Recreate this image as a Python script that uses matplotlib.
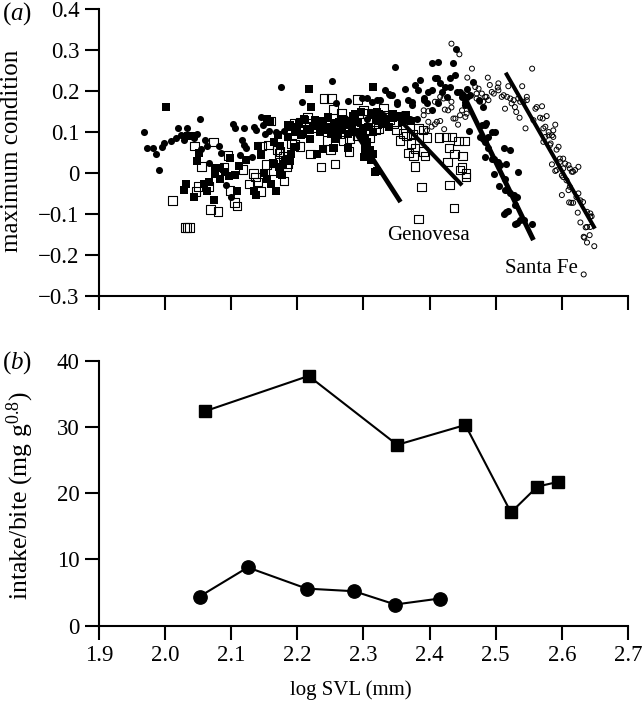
import matplotlib
matplotlib.use("Agg")
import matplotlib.pyplot as plt

plt.rcParams['font.family'] = ['Liberation Serif', 'DejaVu Serif']
plt.rcParams['mathtext.fontset'] = 'custom'
plt.rcParams['mathtext.rm'] = 'Liberation Serif'
plt.rcParams['mathtext.it'] = 'Liberation Serif:italic'

# panel a: filled squares
fsq_x = [2.002, 2.218, 2.220, 2.034, 2.040, 2.048, 2.051, 2.075, 2.083, 2.075, 2.083, 2.091, 2.096, 2.106,
         2.098, 2.112, 2.123, 2.032, 2.028, 2.044, 2.059, 2.063, 2.067, 2.074, 2.109, 2.134, 2.138, 2.149,
         2.154, 2.160, 2.168, 2.177, 2.172, 2.163, 2.145, 2.141, 2.159, 2.154, 2.174, 2.181, 2.189, 2.191,
         2.186, 2.210, 2.229, 2.239, 2.256, 2.277, 2.190, 2.197, 2.203, 2.208, 2.214, 2.219, 2.224, 2.229,
         2.234, 2.238, 2.243, 2.247, 2.251, 2.255, 2.259, 2.263, 2.268, 2.272, 2.276, 2.280, 2.284, 2.288,
         2.292, 2.296, 2.300, 2.303, 2.306, 2.310, 2.315, 2.319, 2.323, 2.328, 2.332, 2.338, 2.345, 2.352,
         2.358, 2.365, 2.372, 2.318, 2.301, 2.315, 2.315,
         2.164, 2.171, 2.179, 2.184, 2.191, 2.196, 2.186, 2.189, 2.199, 2.206, 2.212, 2.219, 2.227, 2.234,
         2.242, 2.247, 2.257, 2.262, 2.267, 2.275, 2.282, 2.287, 2.292, 2.300, 2.305, 2.307, 2.312, 2.320,
         2.330, 2.345, 2.358, 2.365, 2.302, 2.312, 2.320, 2.164, 2.174, 2.239, 2.254]
fsq_y = [0.160, 0.206, 0.162, 0.091, 0.091, 0.029, 0.049, 0.013, 0.013, -0.003, -0.014, 0.003, -0.008, -0.006,
         0.036, 0.016, 0.031, -0.026, -0.041, -0.059, -0.028, -0.045, -0.023, -0.067, -0.045, -0.045, -0.053, -0.001,
         -0.015, -0.026, -0.043, -0.006, 0.015, 0.025, 0.043, 0.067, 0.127, 0.133, 0.065, 0.029, 0.029, 0.046,
         0.118, 0.131, 0.046, 0.058, 0.062, 0.062, 0.112, 0.100, 0.119, 0.095, 0.108, 0.084, 0.115, 0.125,
         0.100, 0.128, 0.112, 0.135, 0.094, 0.115, 0.083, 0.125, 0.105, 0.128, 0.095, 0.118, 0.140, 0.100,
         0.125, 0.150, 0.110, 0.085, 0.070, 0.055, 0.100, 0.130, 0.145, 0.120, 0.132, 0.112, 0.135, 0.140,
         0.125, 0.130, 0.128, 0.003, 0.040, 0.210, 0.047,
         0.076, 0.092, 0.023, 0.035, 0.047, 0.064, 0.088, 0.117, 0.108, 0.092, 0.129, 0.104, 0.129, 0.117,
         0.104, 0.137, 0.121, 0.096, 0.133, 0.117, 0.104, 0.145, 0.125, 0.096, 0.076, 0.112, 0.145, 0.149,
         0.129, 0.145, 0.133, 0.141, 0.059, 0.031, 0.006, 0.023, -0.002, 0.059, 0.062]

# panel a: open squares
osq_x = [2.011, 2.030, 2.033, 2.037, 2.044, 2.055, 2.073, 2.095, 2.089, 2.118, 2.128, 2.134, 2.140, 2.137,
         2.144, 2.153, 2.164, 2.146, 2.160, 2.174, 2.184, 2.180, 2.185, 2.169, 2.156, 2.196, 2.204, 2.220,
         2.236, 2.257, 2.250, 2.278, 2.240, 2.252, 2.255, 2.291, 2.050, 2.047, 2.066, 2.098, 2.105, 2.109,
         2.069, 2.080, 2.218, 2.267, 2.269, 2.279, 2.264, 2.191, 2.300, 2.306, 2.297, 2.318, 2.323, 2.330,
         2.340, 2.355, 2.360, 2.383, 2.396, 2.372, 2.376, 2.368, 2.378, 2.391, 2.393, 2.378, 2.388, 2.430,
         2.437, 2.383, 2.414, 2.425, 2.434, 2.444, 2.453, 2.429, 2.438, 2.450, 2.427, 2.446, 2.449, 2.455,
         2.455,
         2.172, 2.178, 2.185, 2.196, 2.205, 2.215, 2.226, 2.245, 2.260, 2.280, 2.290, 2.310, 2.320, 2.330,
         2.345, 2.350, 2.365, 2.375, 2.390]
osq_y = [-0.067, -0.133, -0.133, -0.133, 0.066, 0.016, 0.076, 0.042, 0.013, 0.008, -0.027, -0.002, -0.022, -0.010,
         -0.045, 0.020, 0.005, 0.066, 0.127, 0.052, 0.015, -0.020, 0.023, 0.056, 0.068, 0.122, 0.064, 0.046,
         0.015, 0.022, 0.058, 0.052, 0.182, 0.182, 0.155, 0.179, -0.033, -0.045, -0.033, -0.043, -0.072, -0.081,
         -0.090, -0.094, 0.121, 0.145, 0.080, 0.084, 0.096, 0.072, 0.153, 0.145, 0.125, 0.105, 0.109, 0.157,
         0.129, 0.080, 0.096, 0.109, 0.087, 0.072, 0.043, 0.049, 0.060, 0.052, 0.041, 0.016, -0.034, -0.029,
         -0.086, -0.112, 0.087, 0.088, 0.088, 0.078, 0.078, 0.061, 0.046, 0.041, 0.027, 0.007, 0.013, -0.001,
         -0.010,
         0.048, 0.040, 0.033, 0.070, 0.125, 0.135, 0.110, 0.080, 0.105, 0.120, 0.090, 0.085, 0.120, 0.140,
         0.120, 0.105, 0.090, 0.095, 0.105]

# panel a: filled circles
fci_x = [1.968, 1.973, 1.982, 1.986, 1.991, 1.995, 1.999, 2.009, 2.016, 2.020, 2.033, 2.024, 2.028, 2.052,
         2.048, 2.043, 2.060, 2.063, 2.055, 2.082, 2.085, 2.067, 2.102, 2.106, 2.119, 2.135, 2.138, 2.148,
         2.145, 2.151, 2.157, 2.168, 2.180, 2.175, 2.207, 2.253, 2.258, 2.277, 2.116, 2.120, 2.123, 2.113,
         2.132, 2.092, 2.099, 2.348, 2.403, 2.412, 2.436, 2.440, 2.363, 2.382, 2.386, 2.378, 2.338, 2.343,
         2.320, 2.305, 2.350, 2.373, 2.391, 2.398, 2.408, 2.416, 2.431, 2.423, 2.439, 2.446, 2.456, 2.466,
         2.459, 2.484, 2.499, 2.476, 2.489, 2.513, 2.522, 2.484, 2.494, 2.504, 2.515, 2.497, 2.534, 2.505,
         2.514, 2.527, 2.529, 2.512, 2.518, 2.529, 2.542, 2.555, 2.481, 2.474, 2.454, 2.451, 2.426, 2.413,
         2.396, 2.371, 2.381, 2.358,
         2.297, 2.313, 2.325, 2.333, 2.340, 2.350, 2.368, 2.373, 2.360, 2.345, 2.330, 2.318, 2.305, 2.391,
         2.403, 2.411, 2.403, 2.418, 2.431, 2.441, 2.449, 2.454, 2.461, 2.456, 2.479, 2.486, 2.494, 2.481,
         2.484, 2.489, 2.497, 2.507, 2.514, 2.517, 2.522, 2.532, 2.537, 2.532, 2.515]
fci_y = [0.101, 0.060, 0.060, 0.046, 0.007, 0.063, 0.072, 0.077, 0.085, 0.110, 0.109, 0.093, 0.080, 0.132,
         0.094, 0.085, 0.080, 0.066, 0.058, 0.067, 0.048, 0.024, 0.119, 0.109, 0.111, 0.113, 0.105, 0.116,
         0.137, 0.094, 0.102, 0.101, 0.103, 0.209, 0.174, 0.225, 0.172, 0.175, 0.080, 0.068, 0.060, 0.044,
         0.040, -0.029, -0.059, 0.258, 0.268, 0.272, 0.268, 0.303, 0.204, 0.202, 0.227, 0.215, 0.194, 0.190,
         0.178, 0.182, 0.168, 0.174, 0.179, 0.198, 0.231, 0.219, 0.231, 0.210, 0.239, 0.198, 0.186, 0.223,
         0.103, 0.117, 0.100, 0.088, 0.088, 0.060, 0.057, 0.039, 0.035, 0.027, 0.021, -0.003, 0.002, -0.031,
         -0.042, -0.054, -0.079, -0.101, -0.093, -0.124, -0.116, -0.124, 0.162, 0.178, 0.174, 0.190, 0.186, 0.170,
         0.170, 0.133, 0.131, 0.141,
         0.182, 0.174, 0.178, 0.202, 0.190, 0.174, 0.178, 0.166, 0.145, 0.145, 0.141, 0.145, 0.133, 0.182,
         0.153, 0.231, 0.202, 0.198, 0.210, 0.198, 0.186, 0.166, 0.190, 0.206, 0.117, 0.121, 0.100, 0.084,
         0.076, 0.060, 0.035, 0.019, -0.014, -0.042, -0.050, -0.059, -0.116, -0.122, -0.095]

# panel a: open circles
oci_x = [2.433, 2.445, 2.464, 2.555, 2.457, 2.488, 2.504, 2.491, 2.474, 2.471, 2.479, 2.484, 2.494, 2.503,
         2.519, 2.540, 2.547, 2.509, 2.517, 2.527, 2.534, 2.514, 2.531, 2.536, 2.542, 2.560, 2.570, 2.577,
         2.571, 2.557, 2.545, 2.590, 2.587, 2.572, 2.580, 2.585, 2.572, 2.583, 2.595, 2.592, 2.602, 2.585,
         2.597, 2.610, 2.625, 2.620, 2.590, 2.600, 2.607, 2.615, 2.602, 2.610, 2.600, 2.625, 2.611, 2.617,
         2.632, 2.624, 2.643, 2.645, 2.628, 2.636, 2.634, 2.642, 2.638, 2.649, 2.633, 2.391, 2.398, 2.403,
         2.408, 2.416, 2.422, 2.423, 2.433, 2.439, 2.443, 2.449, 2.456, 2.416, 2.413, 2.433, 2.456, 2.469,
         2.476, 2.489,
         2.471, 2.481, 2.486, 2.497, 2.504, 2.512, 2.522, 2.524, 2.529, 2.537, 2.547, 2.562, 2.567, 2.575,
         2.580, 2.587, 2.575, 2.582, 2.597, 2.605, 2.592, 2.612, 2.617, 2.602, 2.612, 2.622, 2.628, 2.614,
         2.638, 2.643, 2.638, 2.643, 2.633, 2.408, 2.421, 2.428, 2.436, 2.446, 2.454, 2.398, 2.411, 2.396,
         2.391]
oci_y = [0.316, 0.290, 0.255, 0.255, 0.233, 0.233, 0.219, 0.215, 0.206, 0.194, 0.194, 0.186, 0.198, 0.209,
         0.212, 0.212, 0.186, 0.186, 0.186, 0.178, 0.182, 0.157, 0.149, 0.135, 0.174, 0.157, 0.163, 0.139,
         0.133, 0.129, 0.109, 0.118, 0.104, 0.109, 0.100, 0.092, 0.076, 0.072, 0.064, 0.057, 0.035, 0.021,
         0.027, 0.019, 0.015, 0.007, 0.005, -0.006, -0.018, 0.003, 0.011, -0.042, -0.054, -0.050, -0.072, -0.073,
         -0.071, -0.097, -0.099, -0.106, -0.121, -0.133, -0.158, -0.152, -0.170, -0.179, -0.248, 0.141, 0.151, 0.113,
         0.119, 0.127, 0.107, 0.155, 0.160, 0.133, 0.118, 0.153, 0.145, 0.186, 0.174, 0.174, 0.194, 0.210,
         0.174, 0.178,
         0.182, 0.174, 0.186, 0.194, 0.202, 0.190, 0.182, 0.170, 0.161, 0.174, 0.178, 0.161, 0.135, 0.113,
         0.092, 0.088, 0.088, 0.068, 0.035, 0.023, 0.007, 0.011, 0.003, -0.010, -0.034, -0.059, -0.067, -0.073,
         -0.095, -0.107, -0.132, -0.132, -0.156, 0.174, 0.182, 0.153, 0.133, 0.141, 0.137, 0.125, 0.125, 0.104,
         0.153]

# panel a: fitted lines (start, end)
linea1_x = [2.273, 2.356]
linea1_y = [0.137, -0.071]
linea2_x = [2.360, 2.449]
linea2_y = [0.121, -0.030]
linea3_x = [2.456, 2.557]
linea3_y = [0.174, -0.164]
linea4_x = [2.515, 2.650]
linea4_y = [0.245, -0.136]

# panel b
b_sq_x = [2.061, 2.217, 2.351, 2.454, 2.523, 2.563, 2.594]
b_sq_y = [32.4, 37.7, 27.3, 30.3, 17.1, 21.0, 21.7]
b_ci_x = [2.052, 2.125, 2.214, 2.286, 2.348, 2.415]
b_ci_y = [4.4, 8.8, 5.6, 5.2, 3.2, 4.1]

xticks = [1.9, 2.0, 2.1, 2.2, 2.3, 2.4, 2.5, 2.6, 2.7]
xlabels = ['1.9', '2.0', '2.1', '2.2', '2.3', '2.4', '2.5', '2.6', '2.7']
yticks_a = [0.4, 0.3, 0.2, 0.1, 0, -0.1, -0.2, -0.3]
ylabels_a = ['0.4', '0.3', '0.2', '0.1', '0', '\u22120.1', '\u22120.2', '\u22120.3']
yticks_b = [0, 10, 20, 30, 40]

W, H = 642, 704
fig = plt.figure(figsize=(W / 100, H / 100), dpi=100)
izq, der = 99 / W, 628 / W
ax1 = fig.add_axes([izq, 1 - 295.7 / H, der - izq, (295.7 - 9.3) / H])
ax2 = fig.add_axes([izq, 1 - 625.7 / H, der - izq, (625.7 - 360.7) / H])

for ax in (ax1, ax2):
    ax.spines['top'].set_visible(False)
    ax.spines['right'].set_visible(False)
    ax.spines['left'].set_linewidth(1.5)
    ax.spines['bottom'].set_linewidth(1.5)
    ax.tick_params(length=10, width=1.5, labelsize=16.5, pad=4)
    ax.set_xlim(1.9, 2.7)
    ax.patch.set_visible(False)

# Panel a
ax1.scatter(osq_x, osq_y, marker='s', s=38, facecolors='none', edgecolors='black', linewidths=0.8, zorder=2)
ax1.scatter(fsq_x, fsq_y, marker='s', s=36, color='black', linewidths=0, zorder=3)
ax1.scatter(fci_x, fci_y, marker='o', s=26, color='black', linewidths=0, zorder=3)
ax1.scatter(oci_x, oci_y, marker='o', s=13, facecolors='none', edgecolors='black', linewidths=0.7, zorder=3)
ax1.plot(linea1_x, linea1_y, color='black', lw=3.4, solid_capstyle='butt', zorder=4)
ax1.plot(linea2_x, linea2_y, color='black', lw=3.0, solid_capstyle='butt', zorder=4)
ax1.plot(linea3_x, linea3_y, color='black', lw=3.6, solid_capstyle='butt', zorder=4)
ax1.plot(linea4_x, linea4_y, color='black', lw=2.9, solid_capstyle='butt', zorder=4)
ax1.set_ylim(-0.3, 0.4)
ax1.set_xticks(xticks)
ax1.set_xticklabels([])
ax1.set_yticks(yticks_a)
ax1.set_yticklabels(ylabels_a)
ax1.text(2.336, -0.165, 'Genovesa', fontsize=15)
ax1.text(2.514, -0.245, 'Santa Fe', fontsize=15)

# Panel b
ax2.plot(b_sq_x, b_sq_y, '-s', color='black', lw=1.5, ms=8.8, clip_on=False)
ax2.plot(b_ci_x, b_ci_y, '-o', color='black', lw=1.5, ms=9.6, clip_on=False)
ax2.set_ylim(0, 40)
ax2.set_xticks(xticks)
ax2.set_xticklabels(xlabels)
ax2.set_yticks(yticks_b)

# Textos de los ejes
fig.text(351 / W, 1 - 690 / H, 'log SVL (mm)', fontsize=15, ha='center', va='center')
fig.text(12 / W, 1 - 151 / H, 'maximum condition', rotation=90, fontsize=18, ha='center', va='center')
fig.text(20 / W, 1 - 496 / H, 'intake/bite (mg g$^{0.8}$)', rotation=90, fontsize=18.5, ha='center', va='center')
fig.text(2 / W, 1 - 20 / H, r'($\mathit{a}$)', fontsize=18)
fig.text(2 / W, 1 - 369 / H, r'($\mathit{b}$)', fontsize=18)

fig.savefig('out.png', dpi=100)
